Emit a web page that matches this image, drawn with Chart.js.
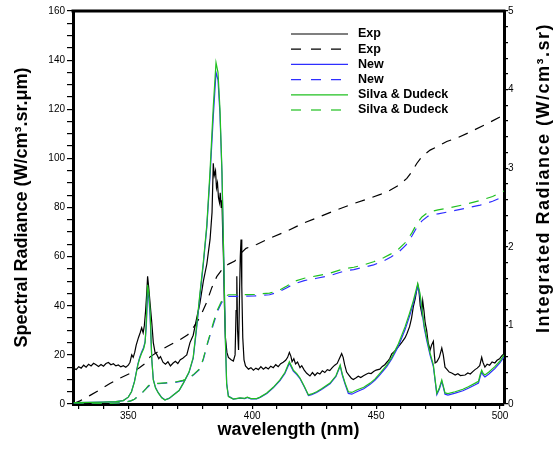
<!DOCTYPE html>
<html>
<head>
<meta charset="utf-8">
<title>Spectral and integrated radiance</title>
<script src="https://cdn.jsdelivr.net/npm/chart.js@4"></script>
<style>
  html, body { margin: 0; padding: 0; background: #fff; }
  #wrap { width: 555px; height: 449px; }
</style>
</head>
<body>
<div id="wrap"><canvas id="radianceChart" width="555" height="449"></canvas></div>
<script>
// Measured spectrum (W/cm3.sr.um) against wavelength (nm)
const expWavelength = [
  328.0, 329.0, 330.0, 331.0, 332.0, 333.0, 334.0, 335.0, 336.0, 337.0, 338.0, 339.0, 340.0, 341.0, 342.0,
  343.0, 344.0, 345.0, 346.0, 347.0, 348.0, 349.0, 350.0, 350.7, 351.4, 352.0, 352.6, 353.2, 354.1, 354.8,
  355.4, 356.0, 356.5, 357.0, 357.5, 357.8, 358.2, 358.8, 359.5, 360.1, 360.8, 361.5, 362.3, 363.0, 364.0,
  365.0, 366.0, 367.0, 368.0, 369.0, 370.0, 371.0, 372.0, 373.0, 373.6, 374.9, 376.2, 377.6, 378.9, 380.3,
  381.7, 383.0, 383.8, 384.3, 384.7, 385.2, 385.6, 386.0, 386.4, 386.8, 387.1, 387.5, 387.8, 388.1, 388.4,
  388.8, 389.2, 389.8, 390.4, 391.5, 392.4, 393.1, 393.5, 393.8, 394.1, 394.5, 394.9, 395.2, 395.5, 395.8,
  396.2, 396.7, 397.3, 398.5, 399.5, 400.5, 401.5, 402.5, 403.5, 404.5, 405.5, 406.5, 407.5, 408.5, 409.5,
  410.5, 411.5, 412.5, 413.5, 414.3, 415.0, 415.6, 416.1, 416.8, 417.5, 418.3, 419.3, 420.0, 421.0, 422.0,
  423.3, 424.3, 425.3, 426.3, 427.3, 428.3, 429.3, 430.3, 431.3, 432.3, 433.3, 434.3, 435.2, 436.1, 436.7,
  437.3, 438.1, 439.0, 440.0, 440.8, 441.8, 442.8, 443.8, 444.9, 446.0, 447.0, 448.0, 449.0, 450.0, 451.5,
  452.5, 453.5, 454.5, 455.5, 456.3, 457.5, 458.5, 459.5, 460.5, 461.7, 462.5, 463.5, 464.3, 465.0, 465.8,
  466.3, 466.8, 467.3, 467.8, 468.4, 468.8, 469.3, 469.8, 470.4, 471.0, 471.8, 472.4, 473.1, 473.5, 473.8,
  474.5, 475.5, 476.5, 477.1, 477.8, 478.5, 479.5, 480.5, 481.9, 483.0, 484.0, 485.9, 487.0, 488.0, 489.0,
  489.9, 490.8, 491.8, 492.6, 493.1, 493.9, 494.8, 495.8, 496.8, 497.9, 498.8, 499.8, 500.6, 501.6
];
const expSpectral = [
  14.5, 14.0, 15.2, 14.6, 15.8, 15.0, 16.2, 15.5, 16.6, 16.0, 15.3, 16.1, 15.4, 16.5, 16.9,
  16.0, 16.4, 15.5, 15.9, 15.1, 15.6, 15.0, 15.8, 17.0, 20.0, 19.0, 21.0, 24.0, 27.0, 29.0,
  31.0, 29.0, 32.0, 38.0, 46.0, 52.0, 48.0, 41.0, 33.0, 25.0, 21.0, 20.2, 18.5, 19.3, 17.0,
  16.2, 17.2, 15.5, 16.6, 17.4, 16.5, 18.0, 18.6, 19.5, 20.0, 25.0, 28.0, 35.0, 41.0, 50.0,
  57.0, 67.0, 78.0, 98.0, 93.0, 95.0, 88.0, 90.0, 84.0, 82.0, 86.0, 80.0, 83.0, 70.0, 60.0,
  40.0, 27.0, 21.0, 19.0, 18.0, 17.5, 20.0, 38.0, 52.0, 30.0, 22.0, 45.0, 60.0, 67.0, 48.0,
  27.0, 18.0, 15.5, 14.2, 14.8, 13.8, 14.6, 14.0, 15.2, 14.2, 15.0, 14.3, 15.4, 14.8, 16.0,
  15.2, 16.4, 17.0, 17.8, 19.0, 21.0, 19.5, 17.2, 18.4, 16.3, 17.1, 14.8, 15.6, 13.8, 12.5,
  11.4, 12.8, 11.6, 12.7, 12.2, 13.5, 12.8, 14.0, 13.6, 14.8, 15.8, 16.5, 18.5, 20.5, 19.0,
  16.0, 13.0, 11.8, 10.5, 10.0, 10.6, 11.3, 10.8, 11.5, 12.1, 12.6, 12.4, 13.2, 13.8, 14.2,
  15.3, 16.0, 17.2, 18.5, 20.4, 21.5, 22.8, 24.0, 25.3, 27.0, 28.8, 31.5, 35.0, 39.5, 43.0,
  46.0, 48.5, 46.0, 40.0, 37.0, 42.0, 38.0, 33.0, 30.0, 25.0, 22.0, 24.0, 25.5, 20.0, 16.7,
  17.2, 19.0, 22.8, 20.0, 15.0, 14.2, 13.0, 12.6, 11.8, 12.3, 11.6, 11.8, 12.6, 12.2, 13.2,
  14.0, 14.6, 15.6, 19.0, 17.0, 15.0, 16.2, 15.8, 17.1, 16.7, 17.8, 18.4, 19.5, 20.5
];

// Computed spectra, both models on the same wavelength grid
const modelWavelength = [
  328, 335, 340, 345, 348, 350, 351.3, 352.5, 353.9, 354.6, 355.4, 356.2, 356.8, 357.3, 357.8,
  358.3, 358.8, 359.5, 360.1, 361, 362.1, 363.5, 364.8, 366.5, 368.2, 370.5, 372.2, 374.5, 376.2, 377.6,
  378.9, 380.3, 381.7, 383, 384.3, 385.4, 386.2, 387, 387.8, 388.6, 389.2, 389.7, 390.4, 392.4, 395.1,
  397, 398, 399.5, 401.8, 403.2, 405.9, 408.5, 411.2, 413.2, 415, 416.6, 418, 419.3, 421, 422.7,
  424, 426, 428, 431.4, 433.8, 435.5, 436.4, 437.5, 438.8, 440.2, 442.2, 445, 447.6, 449.6, 451.6,
  454.3, 456.3, 459, 461.7, 463.5, 465, 466.8, 467.7, 468.4, 469.4, 470.4, 471.8, 473.1, 473.8, 474.5,
  475.5, 476.5, 477.2, 477.8, 479, 481.9, 485, 487.2, 490, 491.3, 492, 492.6, 493.2, 493.9, 495.5,
  497.9, 500, 501.6
];
const newSpectral = [
  0.6, 0.7, 0.8, 1.0, 1.4, 2.8, 5, 9.2, 16.3, 19, 21.2, 23, 25.5, 32, 46,
  43, 36, 18, 10, 6.7, 4.6, 2.6, 1.7, 2.3, 3.7, 5.5, 8.4, 12.8, 18.6, 31,
  44, 57, 72, 93, 117, 135, 132, 118, 94, 55, 26, 8.5, 3.2, 2, 2.4,
  2.2, 2.7, 2.1, 2.1, 2.7, 4.3, 6.6, 9.5, 12.4, 16.6, 13.4, 12, 10.3, 7, 3.4,
  3.8, 4.7, 5.9, 8.2, 11.2, 15.5, 11.6, 8, 4.3, 4, 5, 6.2, 8, 9.7, 12,
  15.2, 18.3, 23.5, 30.3, 35.8, 41, 48, 44, 38.5, 31, 26, 19.8, 15.2, 9.5, 3.8,
  6, 9.2, 6.5, 4, 3.6, 4.4, 5.4, 6.4, 7.8, 8.5, 11.2, 13, 11.7, 11, 12.2,
  14.4, 16.8, 19.2
];
const silvaSpectral = [
  0.6, 0.7, 0.8, 1.0, 1.4, 2.8, 5, 9, 16, 18.5, 20.7, 22.5, 25, 34, 48.5,
  45, 38, 18, 9.8, 6.5, 4.5, 2.5, 1.6, 2.3, 3.7, 5.5, 8.5, 13, 19, 32,
  45, 58, 73, 95, 121, 139, 135, 120, 95, 55, 25, 8, 3, 2, 2.5,
  2.3, 2.8, 2.2, 2.2, 2.8, 4.5, 6.8, 9.8, 12.8, 17.2, 13.8, 12.4, 10.6, 7.2, 3.7,
  4.1, 5, 6.2, 8.5, 11.5, 15.9, 12, 8.5, 5, 4.7, 5.7, 6.8, 8.5, 10.2, 12.6,
  15.8, 19, 24.5, 31.5, 37, 42, 49, 45, 39.6, 32, 27, 20.6, 15.9, 10, 4.3,
  6.5, 9.8, 7, 4.5, 4.2, 5, 6, 7, 8.5, 9.2, 12, 13.8, 12.4, 11.8, 13,
  15.2, 17.5, 20
];

// Integrated radiance (W/cm3.sr), right-hand axis
const expIntWavelength = [
  327.7, 330.5, 334.6, 338.5, 342.6, 346.7, 350.7, 354.5, 357, 358.8, 362.8, 366.8, 371, 374, 376.2,
  378.9, 381.7, 383.7, 385.7, 388.3, 390.5, 393, 395.5, 397.5, 401.8, 407.2, 414, 420.6, 427, 434.1,
  441, 447.6, 452, 455.6, 459, 462.4, 464.5, 466.4, 468.5, 471.8, 475, 478.5, 483, 487.9, 495, 501.6
];
const expIntegrated = [
  0, 0.04, 0.11, 0.18, 0.26, 0.33, 0.39, 0.46, 0.52, 0.6, 0.68, 0.75, 0.82, 0.88, 0.97,
  1.1, 1.3, 1.48, 1.62, 1.73, 1.78, 1.82, 1.92, 1.98, 2.03, 2.11, 2.2, 2.3, 2.38, 2.47,
  2.55, 2.62, 2.67, 2.72, 2.78, 2.87, 2.96, 3.06, 3.15, 3.23, 3.28, 3.34, 3.39, 3.46, 3.57, 3.68
];
const modelIntWavelength = [
  328, 340, 348, 351, 352.5, 354, 355.5, 357, 358, 359, 360.5, 365, 369, 372, 374.5,
  376.5, 378.9, 380.3, 382, 384.3, 386, 387.5, 389, 390.5, 396, 401, 407, 411, 414, 417,
  421, 426, 431, 434, 437, 441, 445, 449, 453, 456, 459, 462, 464.5, 466.5, 468.5,
  471, 475, 480, 486, 492, 497, 501.6
];
const newIntegrated = [
  0, 0.005, 0.015, 0.04, 0.06, 0.1, 0.14, 0.19, 0.22, 0.245, 0.255, 0.265, 0.275, 0.295, 0.325,
  0.375, 0.445, 0.57, 0.77, 1.01, 1.18, 1.28, 1.35, 1.37, 1.37, 1.375, 1.39, 1.43, 1.48, 1.53,
  1.57, 1.6, 1.63, 1.66, 1.69, 1.71, 1.74, 1.77, 1.82, 1.87, 1.93, 2.02, 2.14, 2.25, 2.33,
  2.39, 2.42, 2.45, 2.49, 2.53, 2.58, 2.64
];
const silvaIntegrated = [
  0, 0.005, 0.015, 0.04, 0.06, 0.1, 0.14, 0.19, 0.23, 0.25, 0.26, 0.27, 0.28, 0.3, 0.33,
  0.38, 0.45, 0.58, 0.78, 1.03, 1.2, 1.3, 1.37, 1.39, 1.39, 1.395, 1.41, 1.45, 1.5, 1.56,
  1.6, 1.63, 1.66, 1.69, 1.72, 1.74, 1.77, 1.81, 1.86, 1.91, 1.97, 2.06, 2.18, 2.3, 2.38,
  2.44, 2.47, 2.5, 2.54, 2.59, 2.64, 2.71
];

// Axis ranges and labelled ticks
const wavelengthRange = [327.7, 501.6];
const wavelengthLabels = [350, 400, 450, 500];
const spectralRange = [0, 160];
const spectralLabels = [0, 20, 40, 60, 80, 100, 120, 140, 160];
const integratedRange = [0, 5];
const integratedLabels = [0, 1, 2, 3, 4, 5];
const integratedTitle = 'Integrated Radiance (W/cm³.sr)';

const FONT = '"Liberation Sans", Arial, Helvetica, sans-serif';
const BLACK = '#000000';
const BLUE = '#2e2eff';
const GREEN = '#20c020';

function points(xs, ys) {
  return xs.map((x, i) => ({ x: x, y: ys[i] }));
}

function series(label, xs, ys, color, dashed, axis, order) {
  return {
    label: label,
    data: points(xs, ys),
    yAxisID: axis,
    borderColor: color,
    backgroundColor: color,
    borderWidth: 1.2,
    borderDash: dashed ? [10, 8] : [],
    pointRadius: 0,
    tension: 0,
    fill: false,
    order: order
  };
}

function labelIf(list) {
  return function (value) {
    const hit = list.find(v => Math.abs(v - value) < 1e-6);
    return hit === undefined ? '' : String(hit);
  };
}

// legend drawn as a plain key in the upper right of the plot
const seriesKey = {
  id: 'seriesKey',
  afterDraw(chart) {
    const ctx = chart.ctx;
    ctx.save();
    chart.data.datasets.forEach((ds, i) => {
      const y = 34 + i * 15.2;
      ctx.strokeStyle = ds.borderColor;
      ctx.lineWidth = 1.2;
      ctx.setLineDash(ds.borderDash.length ? [10, 10] : []);
      ctx.beginPath();
      ctx.moveTo(291, y);
      ctx.lineTo(348, y);
      ctx.stroke();
      ctx.setLineDash([]);
      ctx.fillStyle = BLACK;
      ctx.font = 'bold 12.5px ' + FONT;
      ctx.textBaseline = 'middle';
      ctx.textAlign = 'left';
      ctx.fillText(ds.label, 358, y);
    });
    ctx.restore();
  }
};

// top edge of the frame, plus the right axis title read bottom-to-top
const frameExtras = {
  id: 'frameExtras',
  afterDraw(chart) {
    const a = chart.chartArea;
    const ctx = chart.ctx;
    ctx.save();
    ctx.strokeStyle = BLACK;
    ctx.lineWidth = 3;
    ctx.beginPath();
    ctx.moveTo(a.left - 1.5, a.top);
    ctx.lineTo(a.right + 1.5, a.top);
    ctx.stroke();

    ctx.translate(chart.width - 10.5, 178);
    ctx.rotate(-Math.PI / 2);
    ctx.fillStyle = BLACK;
    ctx.font = 'bold 18px ' + FONT;
    ctx.letterSpacing = '1.5px';
    ctx.textAlign = 'center';
    ctx.textBaseline = 'middle';
    ctx.fillText(integratedTitle, 0, 0);
    ctx.restore();
  }
};

const tickFont = { family: FONT, size: 10 };
const titleFont = { family: FONT, size: 18, weight: 'bold' };

const ctx = document.getElementById('radianceChart').getContext('2d');
const radianceChart = new Chart(ctx, {
  type: 'line',
  data: {
    datasets: [
      series('Exp', expWavelength, expSpectral, BLACK, false, 'y', 2),
      series('Exp', expIntWavelength, expIntegrated, BLACK, true, 'y2', 2),
      series('New', modelWavelength, newSpectral, BLUE, false, 'y', 1),
      series('New', modelIntWavelength, newIntegrated, BLUE, true, 'y2', 1),
      series('Silva & Dudeck', modelWavelength, silvaSpectral, GREEN, false, 'y', 0),
      series('Silva & Dudeck', modelIntWavelength, silvaIntegrated, GREEN, true, 'y2', 0)
    ]
  },
  options: {
    responsive: false,
    animation: false,
    layout: { padding: { top: 11, left: 0, right: 0, bottom: 0 } },
    plugins: {
      legend: { display: false },
      tooltip: { enabled: false }
    },
    scales: {
      x: {
        type: 'linear',
        position: 'bottom',
        min: wavelengthRange[0],
        max: wavelengthRange[1],
        afterFit: s => { s.height = 45; },
        border: { display: true, color: BLACK, width: 3 },
        grid: { drawOnChartArea: false, drawTicks: true, tickLength: 5, color: BLACK, lineWidth: 1.2 },
        ticks: {
          stepSize: 10, includeBounds: false, autoSkip: false, maxRotation: 0,
          padding: 1, color: BLACK, font: tickFont,
          callback: labelIf(wavelengthLabels)
        },
        title: {
          display: true, text: 'wavelength (nm)', color: BLACK, font: titleFont,
          padding: { top: 0, bottom: 7.7 }
        }
      },
      y: {
        type: 'linear',
        position: 'left',
        min: spectralRange[0],
        max: spectralRange[1],
        afterFit: s => { s.width = 73; },
        border: { display: true, color: BLACK, width: 3 },
        grid: { drawOnChartArea: false, drawTicks: true, tickLength: 6, color: BLACK, lineWidth: 1.2 },
        ticks: {
          stepSize: 5, includeBounds: false, autoSkip: false,
          padding: 2, color: BLACK, font: tickFont,
          callback: labelIf(spectralLabels)
        },
        title: {
          display: true, text: 'Spectral Radiance (W/cm³.sr.μm)', color: BLACK, font: titleFont,
          padding: { top: 11, bottom: 0 }
        }
      },
      y2: {
        type: 'linear',
        position: 'right',
        min: integratedRange[0],
        max: integratedRange[1],
        afterFit: s => { s.width = 51; },
        border: { display: true, color: BLACK, width: 3 },
        grid: { drawOnChartArea: false, drawTicks: true, tickLength: 4, color: BLACK, lineWidth: 1.2 },
        ticks: {
          stepSize: 0.2, includeBounds: false, autoSkip: false,
          padding: 0, color: BLACK, font: tickFont,
          callback: labelIf(integratedLabels)
        },
        title: { display: false }
      }
    }
  },
  plugins: [seriesKey, frameExtras]
});
</script>
</body>
</html>
